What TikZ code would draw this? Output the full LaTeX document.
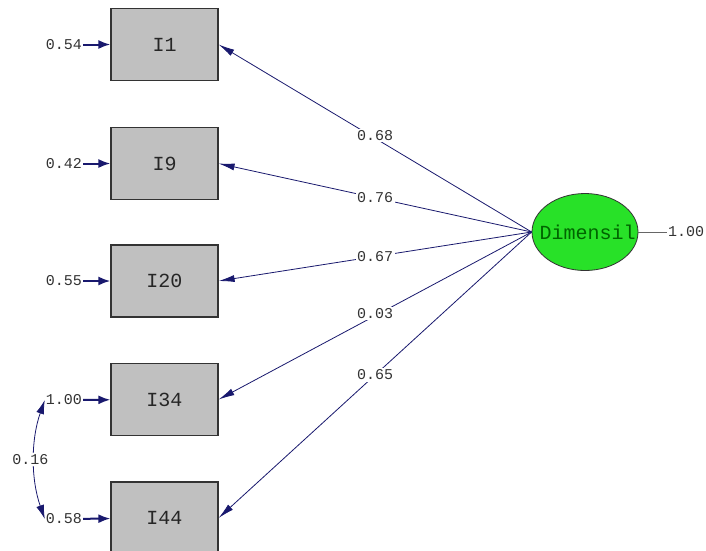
\documentclass[tikz,border=0pt]{standalone}
\usepackage{fontspec}
\setmonofont{Liberation Mono}
\usetikzlibrary{shapes.geometric,arrows.meta}
\definecolor{navy}{RGB}{25,25,110}
\definecolor{boxgray}{RGB}{192,192,192}
\definecolor{latgreen}{RGB}{40,225,40}
\definecolor{txtgreen}{RGB}{0,100,0}
\begin{document}
\begin{tikzpicture}[x=1pt,y=-1pt,
 obs/.style={draw=black!80, line width=1.2pt, fill=boxgray, minimum width=107pt, minimum height=72pt, inner sep=0pt, font=\ttfamily\fontsize{20}{20}\selectfont, text=black!85},
 lat/.style={ellipse, draw=black!80, line width=0.8pt, fill=latgreen, minimum width=106pt, minimum height=77pt, inner sep=0pt, font=\ttfamily\fontsize{20}{20}\selectfont, text=txtgreen},
 num/.style={font=\ttfamily\fontsize{15}{15}\selectfont, text=black!80, inner sep=1pt},
 pathlab/.style={num, fill=white, inner sep=1.5pt},
 load/.style={draw=navy, line width=0.8pt, -{Latex[length=16pt,width=7pt]}},
 err/.style={draw=navy, line width=2pt, -{Latex[length=12pt,width=9pt]}},
 cov/.style={draw=navy, line width=0.8pt, {Latex[length=14pt,width=8pt]}-{Latex[length=14pt,width=8pt]}},
]
\useasboundingbox (0,0) rectangle (706,550);
\fill[white] (0,0) rectangle (706,550);

% observed variables
\node[obs] (I1)  at (164.5,44.5)  {I1};
\node[obs] (I9)  at (164.5,163.5) {I9};
\node[obs] (I20) at (164.5,281)   {I20};
\node[obs] (I34) at (164.5,399.5) {I34};
\node[obs] (I44) at (164.5,518)   {I44};

% error variances
\node[num] (e1)  at (64,44.5)  {0.54};
\node[num] (e9)  at (64,163.5) {0.42};
\node[num] (e20) at (64,281)   {0.55};
\node[num] (e34) at (64,400)   {1.00};
\node[num] (e44) at (64,519)   {0.58};

\draw[err] (e1)  -- (I1);
\draw[err] (e9)  -- (I9);
\draw[err] (e20) -- (I20);
\draw[err] (e34) -- (I34);
\draw[err] (e44) -- (I44);

% latent variable
\node[lat] (D) at (585,232) {\makebox[0pt]{\hspace*{5pt}Dimensil}};
\node[num] (dv) at (686,232) {1.00};
\draw[draw=black!60, line width=0.8pt] (D.east) -- (dv);

% loadings
\draw[load] (D.west) -- node[pathlab, yshift=3pt]{0.68} (I1.east);
\draw[load] (D.west) -- node[pathlab]{0.76} (I9.east);
\draw[load] (D.west) -- node[pathlab]{0.67} (I20.east);
\draw[load] (D.west) -- node[pathlab, yshift=2pt]{0.03} (I34.east);
\draw[load] (D.west) -- node[pathlab]{0.65} (I44.east);

% error covariance
\draw[cov] (e34.west) .. controls +(-14,40) and +(-14,-40) .. node[pathlab, xshift=-4pt]{0.16} (e44.west);
\end{tikzpicture}
\end{document}
